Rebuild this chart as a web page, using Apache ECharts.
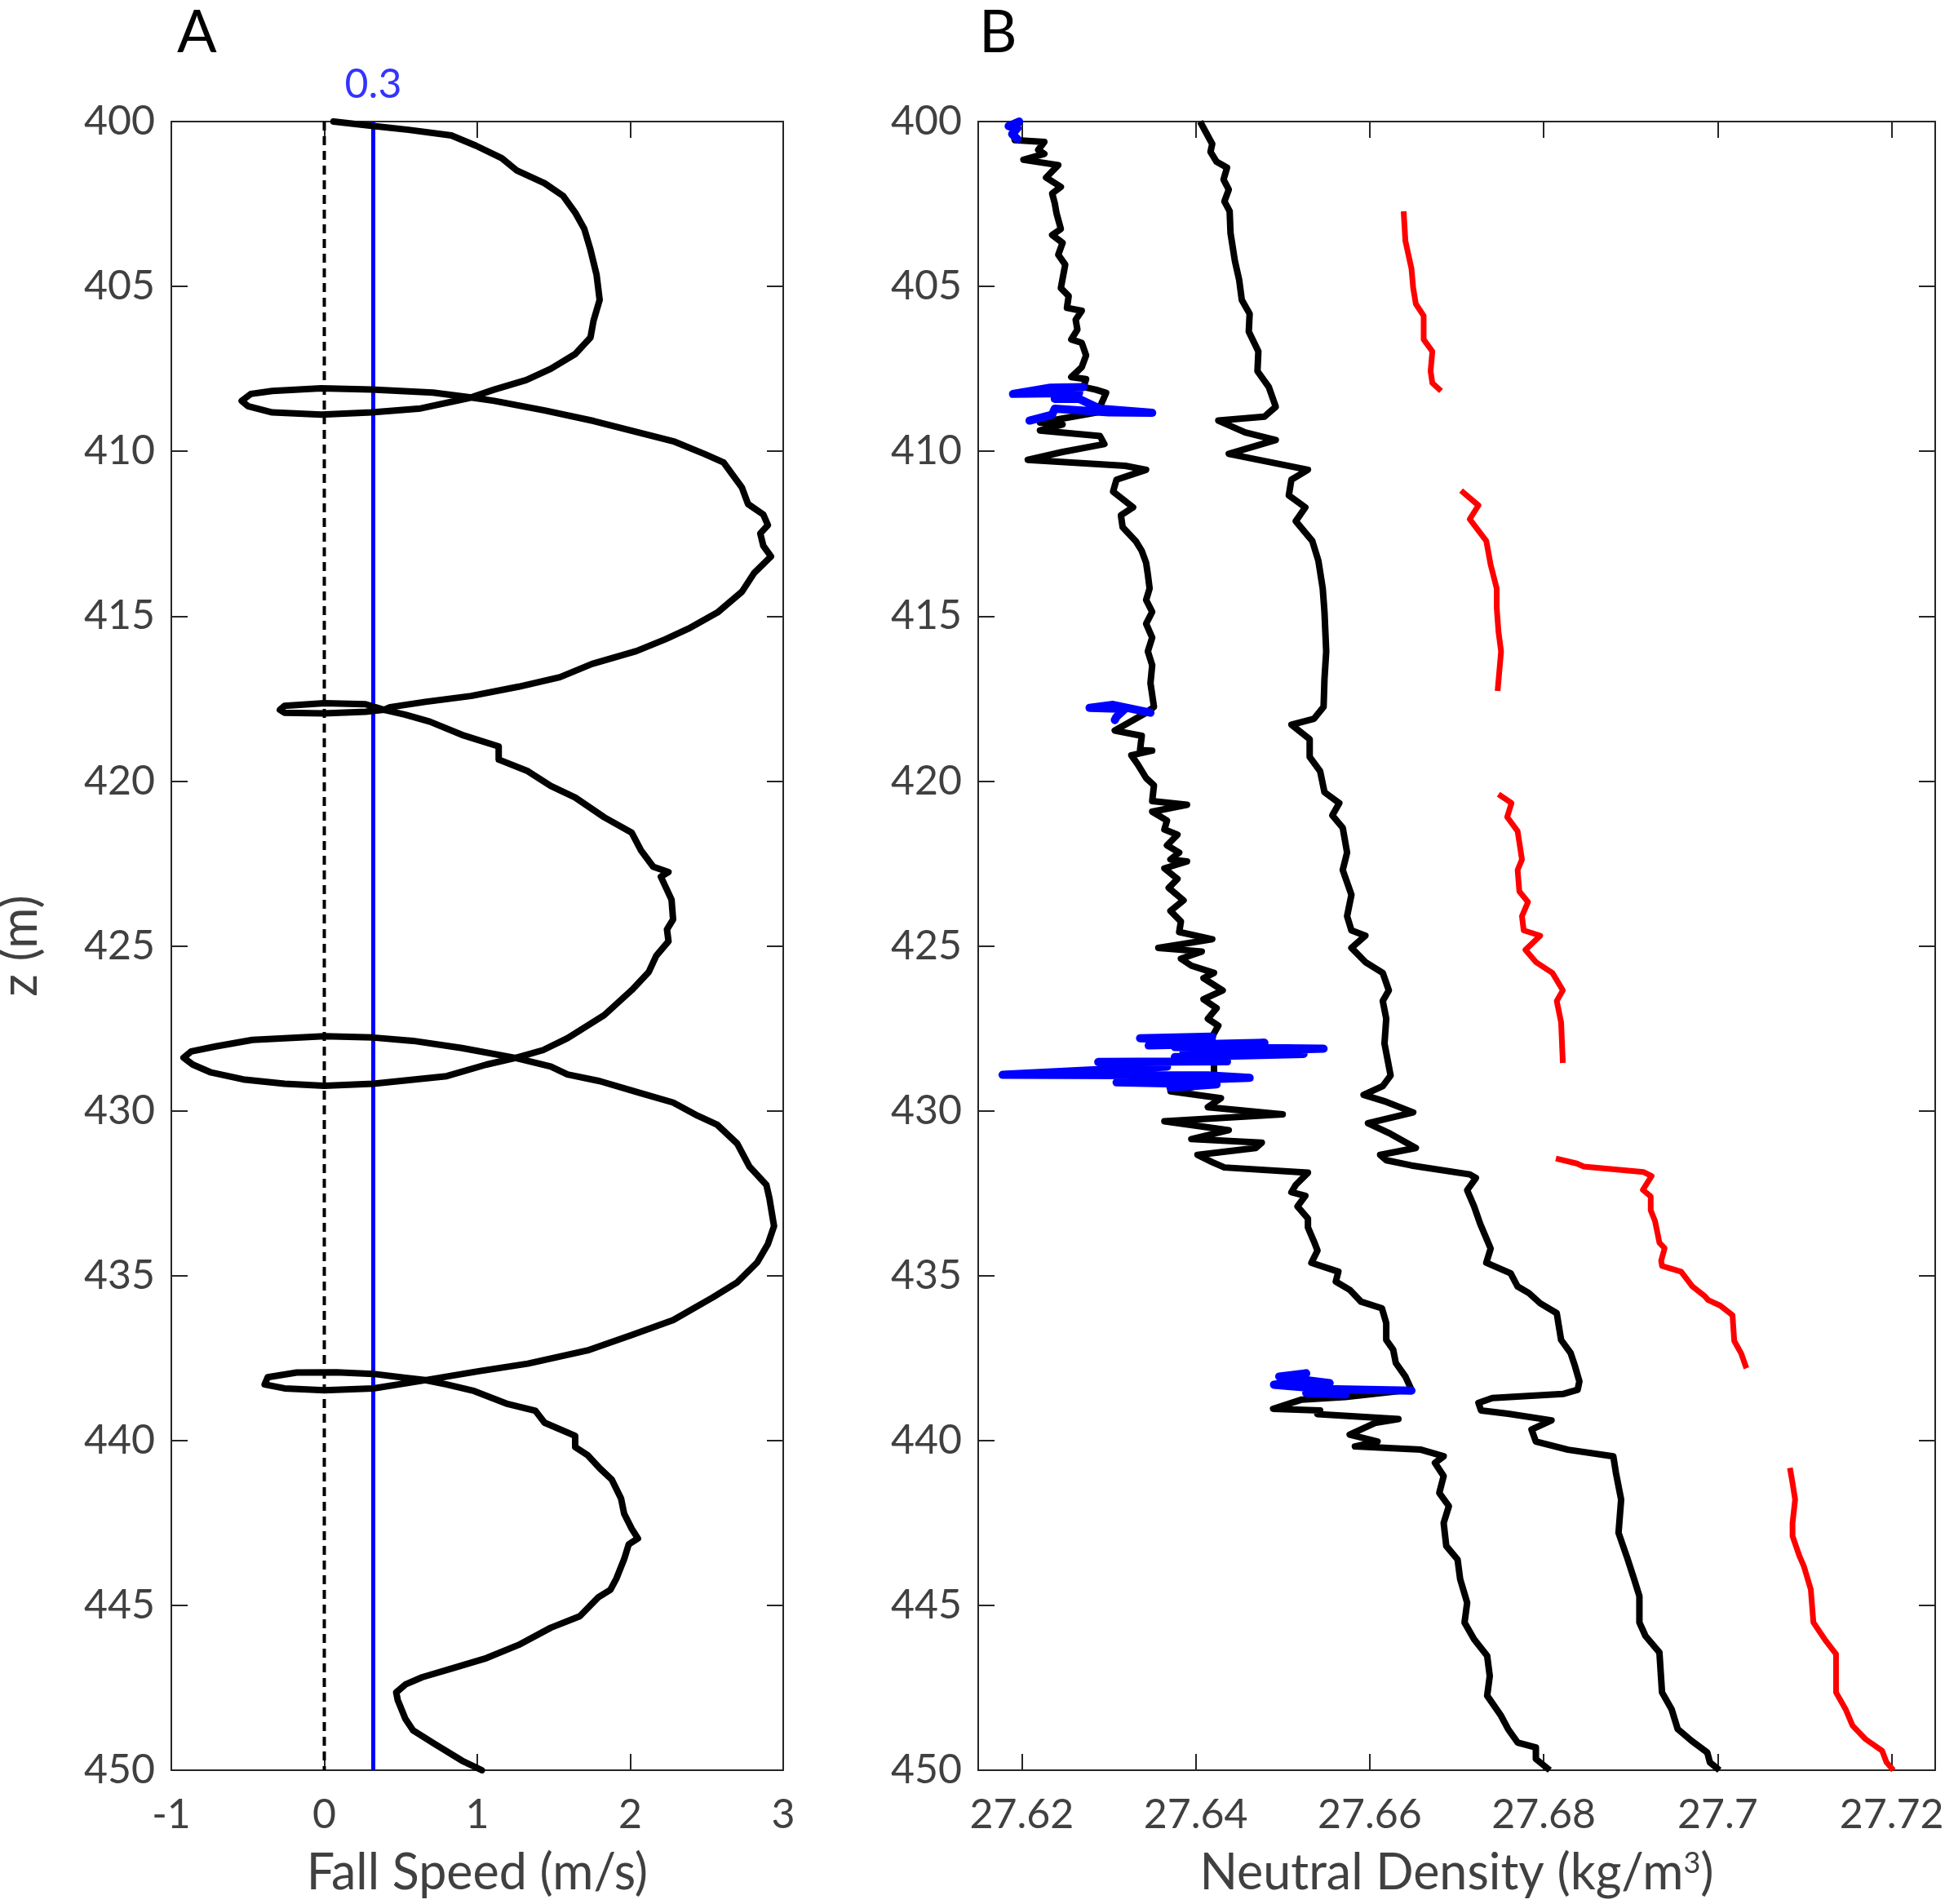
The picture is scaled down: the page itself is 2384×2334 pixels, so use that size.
<!DOCTYPE html>
<html>
<head>
<meta charset="utf-8">
<script src="https://cdn.jsdelivr.net/npm/echarts@6/dist/echarts.min.js"></script>
<style>
  html, body { margin: 0; padding: 0; background: #fff; }
  #chart { width: 2384px; height: 2334px; }
</style>
</head>
<body>
<div id="chart"></div>
<script>
// panel A: fall speed (m/s) along the profile, in time order
var speedA = [0.06, 0.31, 0.55, 0.83, 0.99, 1.16, 1.26, 1.44, 1.56, 1.64, 1.7, 1.74, 1.78, 1.8, 1.76, 1.74, 1.64, 1.48, 1.32, 1.11,
  0.95, 0.63, 0.31, -0.02, -0.34, -0.5, -0.54, -0.48, -0.34, -0.02, 0.31, 0.71, 0.95, 1.11, 1.44, 1.76, 2.29, 2.49, 2.61, 2.73,
  2.77, 2.87, 2.9, 2.85, 2.87, 2.92, 2.81, 2.73, 2.57, 2.38, 2.23, 2.04, 1.75, 1.54, 1.27, 0.96, 0.66, 0.43, 0.39, 0.27,
  0, -0.26, -0.29, -0.26, 0, 0.27, 0.39, 0.53, 0.69, 0.9, 1.14, 1.14, 1.33, 1.48, 1.64, 1.83, 2.01, 2.07, 2.15, 2.25,
  2.2, 2.27, 2.28, 2.24, 2.25, 2.17, 2.12, 2.01, 1.83, 1.59, 1.43, 1.25, 1.06, 0.8, 0.32, 0, -0.26, -0.53, -0.74, -0.86,
  -0.92, -0.87, -0.71, -0.47, 0, 0.32, 0.58, 0.9, 1.25, 1.48, 1.59, 1.8, 2.07, 2.28, 2.44, 2.57, 2.7, 2.78, 2.89, 2.91,
  2.94, 2.9, 2.83, 2.7, 2.54, 2.28, 2.01, 1.72, 1.33, 1.01, 0.66, 0.32, 0, -0.26, -0.39, -0.37, -0.18, 0.08, 0.32, 0.53,
  0.66, 0.8, 0.98, 1.19, 1.38, 1.44, 1.64, 1.64, 1.72, 1.8, 1.88, 1.94, 1.96, 2.01, 2.05, 1.99, 1.96, 1.91, 1.87, 1.79,
  1.67, 1.48, 1.27, 1.06, 0.85, 0.64, 0.53, 0.47, 0.48, 0.53, 0.58, 0.72, 0.9, 1.03];
var depthA = [400, 400.13, 400.25, 400.42, 400.73, 401.11, 401.49, 401.87, 402.25, 402.76, 403.26, 403.89, 404.65, 405.41, 406.04, 406.55, 407.05, 407.5, 407.84, 408.13,
  408.38, 408.7, 408.82, 408.89, 408.82, 408.63, 408.47, 408.26, 408.17, 408.09, 408.13, 408.22, 408.36, 408.47, 408.76, 409.08, 409.71, 410.09, 410.34, 411.1,
  411.6, 411.92, 412.24, 412.49, 412.87, 413.19, 413.69, 414.26, 414.89, 415.38, 415.7, 416.06, 416.45, 416.85, 417.14, 417.42, 417.6, 417.76, 417.84, 417.9,
  417.95, 417.93, 417.84, 417.72, 417.64, 417.67, 417.84, 417.99, 418.2, 418.6, 418.95, 419.35, 419.7, 420.15, 420.5, 421.1, 421.57, 422.1, 422.6, 422.76,
  422.9, 423.6, 424.2, 424.5, 424.86, 425.3, 425.8, 426.34, 427.1, 427.8, 428.16, 428.4, 428.6, 428.95, 429.18, 429.24, 429.18, 429.05, 428.84, 428.6,
  428.39, 428.2, 428.05, 427.85, 427.74, 427.78, 427.88, 428.1, 428.4, 428.66, 428.9, 429.1, 429.47, 429.75, 430.15, 430.43, 431.0, 431.7, 432.25, 432.66,
  433.5, 434.04, 434.6, 435.2, 435.66, 436.35, 436.8, 437.27, 437.67, 437.9, 438.17, 438.42, 438.48, 438.42, 438.3, 438.08, 437.94, 437.93, 437.98, 438.1,
  438.17, 438.3, 438.5, 438.88, 439.1, 439.46, 439.86, 440.2, 440.44, 440.84, 441.19, 441.76, 442.22, 442.68, 442.97, 443.15, 443.6, 444.18, 444.53, 444.76,
  445.33, 445.68, 446.2, 446.6, 446.89, 447.18, 447.4, 447.64, 447.87, 448.44, 448.79, 449.2, 449.71, 450];
var zeroSpeed = 0;
var refSpeed = 0.32;

// panel B: neutral density profiles [density, depth]
var densLeft = [[27.6198,400],[27.6190,400.3],[27.6192,400.56],[27.6226,400.62],[27.6219,400.86],[27.6226,400.98],[27.6202,401.16],[27.6242,401.32],[27.6228,401.7],[27.6245,401.98],
  [27.6235,402.18],[27.6238,402.48],[27.6240,402.78],[27.6245,403.26],[27.6235,403.44],[27.6247,403.68],[27.6242,404.04],[27.6250,404.34],[27.6245,405.05],[27.6254,405.29],
  [27.6252,405.65],[27.6269,405.74],[27.6262,406.01],[27.6264,406.31],[27.6257,406.61],[27.6269,406.71],[27.6274,407.09],[27.6269,407.45],[27.6257,407.75],[27.6274,407.81],
  [27.6271,408.05],[27.6285,408.13],[27.6297,408.23],[27.6290,408.65],[27.6297,408.77],[27.6221,409.13],[27.6247,409.19],[27.6221,409.37],[27.6290,409.54],[27.6295,409.78],
  [27.6247,410.02],[27.6207,410.26],[27.6319,410.44],[27.6343,410.56],[27.6309,410.86],[27.6305,411.22],[27.6328,411.7],[27.6314,411.94],[27.6316,412.3],[27.6331,412.72],
  [27.6338,413.02],[27.6343,413.38],[27.6345,413.74],[27.6347,414.16],[27.6343,414.51],[27.6350,414.87],[27.6343,415.23],[27.6350,415.65],[27.6345,416.07],[27.6350,416.49],
  [27.6348,417.03],[27.6352,417.75],[27.6343,417.93],[27.6307,418.47],[27.6338,418.63],[27.6336,419.06],[27.6350,419.08],[27.6326,419.22],[27.6333,419.48],[27.6343,419.91],
  [27.6352,420.13],[27.6350,420.61],[27.6390,420.72],[27.6350,420.93],[27.6367,421.2],[27.6364,421.47],[27.6379,421.63],[27.6367,421.95],[27.6381,422.17],[27.6371,422.38],
  [27.6390,422.44],[27.6364,422.65],[27.6379,422.97],[27.6369,423.24],[27.6386,423.62],[27.6371,423.94],[27.6383,424.26],[27.6381,424.58],[27.6419,424.8],[27.6357,425.06],
  [27.6407,425.17],[27.6383,425.39],[27.6395,425.6],[27.6421,425.82],[27.6409,425.98],[27.6431,426.35],[27.6409,426.62],[27.6424,426.89],[27.6414,427.21],[27.6426,427.42],
  [27.6419,427.75],[27.6421,428.39],[27.6421,428.82],[27.6424,429.14],[27.6371,429.41],[27.6429,429.62],[27.6414,429.89],[27.6500,430.11],[27.6364,430.32],[27.6438,430.59],
  [27.6395,430.86],[27.6476,430.97],[27.6469,431.13],[27.6402,431.34],[27.6419,431.56],[27.6433,431.72],[27.6529,431.88],[27.6515,432.25],[27.6510,432.47],[27.6526,432.58],
  [27.6517,432.9],[27.6529,433.27],[27.6529,433.54],[27.6536,433.97],[27.6540,434.24],[27.6533,434.61],[27.6564,434.88],[27.6561,435.18],[27.6577,435.43],[27.6590,435.79],
  [27.6614,435.99],[27.6619,436.44],[27.6619,436.95],[27.6627,437.25],[27.6630,437.65],[27.6641,438.06],[27.6648,438.46],[27.6572,438.68],[27.6522,438.76],[27.6489,439.04],
  [27.6543,439.09],[27.6540,439.2],[27.6633,439.35],[27.6606,439.47],[27.6577,439.82],[27.6609,440.03],[27.6583,440.18],[27.6659,440.28],[27.6685,440.48],[27.6675,440.68],
  [27.6685,441.08],[27.6680,441.59],[27.6691,441.99],[27.6685,442.5],[27.6688,443.2],[27.6701,443.61],[27.6704,444.21],[27.6712,444.92],[27.6709,445.52],[27.6720,446.03],
  [27.6735,446.53],[27.6738,447.14],[27.6735,447.74],[27.6751,448.35],[27.6759,448.75],[27.6770,449.16],[27.6791,449.31],[27.6791,449.66],[27.6807,450]];
var densMid = [[27.6405,400],[27.6419,400.68],[27.6417,400.92],[27.6424,401.22],[27.6436,401.4],[27.6432,401.76],[27.6438,402.06],[27.6433,402.42],[27.6439,402.72],[27.6440,403.38],
  [27.6445,404.22],[27.6450,404.81],[27.6453,405.41],[27.6462,405.83],[27.6461,406.37],[27.6472,406.97],[27.6471,407.57],[27.6484,408.05],[27.6492,408.65],[27.6479,408.95],
  [27.6426,409.07],[27.6457,409.43],[27.6492,409.66],[27.6438,410.08],[27.6529,410.56],[27.6510,410.86],[27.6507,411.34],[27.6526,411.7],[27.6515,412.12],[27.6534,412.72],
  [27.6541,413.32],[27.6546,414.16],[27.6548,414.87],[27.6550,416.07],[27.6548,416.91],[27.6547,417.75],[27.6536,418.11],[27.6510,418.29],[27.6531,418.73],[27.6531,419.27],
  [27.6543,419.7],[27.6548,420.34],[27.6565,420.67],[27.6557,421.04],[27.6569,421.42],[27.6574,422.17],[27.6569,422.7],[27.6579,423.45],[27.6574,424.1],[27.6579,424.53],
  [27.6595,424.69],[27.6579,425.06],[27.6595,425.49],[27.6615,425.82],[27.6622,426.35],[27.6615,426.67],[27.6619,427.21],[27.6617,427.96],[27.6624,428.93],[27.6615,429.25],
  [27.6593,429.52],[27.6619,429.73],[27.6650,430.05],[27.6598,430.38],[27.6624,430.7],[27.6653,431.13],[27.6612,431.34],[27.6619,431.5],[27.6648,431.66],[27.6715,431.93],
  [27.6722,432.04],[27.6712,432.41],[27.6720,432.9],[27.6727,433.43],[27.6739,434.18],[27.6734,434.61],[27.6762,434.93],[27.6770,435.33],[27.6783,435.53],[27.6796,435.84],
  [27.6815,436.14],[27.6820,436.95],[27.6831,437.35],[27.6836,437.75],[27.6841,438.21],[27.6839,438.46],[27.6822,438.59],[27.6741,438.71],[27.6725,438.86],[27.6728,439.09],
  [27.6759,439.19],[27.6809,439.39],[27.6786,439.67],[27.6791,440.03],[27.6828,440.28],[27.6880,440.48],[27.6883,440.98],[27.6889,441.79],[27.6886,442.8],[27.6896,443.56],
  [27.6904,444.21],[27.6910,444.72],[27.6910,445.52],[27.6917,445.93],[27.6933,446.43],[27.6936,447.64],[27.6947,448.15],[27.6954,448.75],[27.6970,449.11],[27.6988,449.46],
  [27.6991,449.76],[27.7002,450]];
var redSegments = [
  [[27.6639,402.72],[27.6641,403.62],[27.6648,404.46],[27.6650,405.05],[27.6653,405.53],[27.6662,405.89],[27.6662,406.61],[27.6672,406.97],[27.6670,407.57],[27.6672,407.93],[27.6682,408.17]],
  [[27.6705,411.19],[27.6725,411.64],[27.6715,412.06],[27.6734,412.72],[27.6739,413.44],[27.6746,414.16],[27.6746,414.75],[27.6748,415.47],[27.6751,416.07],[27.6747,417.27]],
  [[27.6748,420.4],[27.6763,420.67],[27.6758,421.09],[27.6770,421.52],[27.6775,422.38],[27.6770,422.7],[27.6772,423.35],[27.6782,423.67],[27.6775,424.1],[27.6777,424.53],
   [27.6796,424.69],[27.6779,425.12],[27.6791,425.49],[27.6810,425.82],[27.6822,426.35],[27.6815,426.67],[27.6820,427.32],[27.6822,428.55]],
  [[27.6814,431.45],[27.6838,431.6],[27.6846,431.69],[27.6915,431.86],[27.6924,431.98],[27.6914,432.4],[27.6923,432.6],[27.6923,433.02],[27.6928,433.35],[27.6933,434.0],
   [27.6939,434.17],[27.6935,434.55],[27.6936,434.71],[27.6958,434.88],[27.6971,435.33],[27.6985,435.62],[27.6989,435.74],[27.7003,435.91],[27.7017,436.2],[27.7019,436.98],
   [27.7027,437.36],[27.7033,437.81]],
  [[27.7083,440.83],[27.7086,441.29],[27.7089,441.79],[27.7086,442.5],[27.7086,442.9],[27.7094,443.51],[27.7099,443.81],[27.7107,444.52],[27.7110,445.52],[27.7123,446.03],
   [27.7136,446.48],[27.7136,447.64],[27.7147,448.15],[27.7155,448.65],[27.7170,449.06],[27.7189,449.41],[27.7194,449.76],[27.7202,450]]
];
var blueSegments = [
  [[27.6197,400],[27.6185,400.14],[27.6195,400.2],[27.6189,400.38],[27.6195,400.53]],
  [[27.6271,408.05],[27.6233,408.07],[27.6190,408.26],[27.6266,408.23],[27.6238,408.41],[27.6266,408.41],[27.6290,408.71],[27.6350,408.83],[27.6300,408.82],[27.6238,408.71],
   [27.6235,408.89],[27.6209,409.07]],
  [[27.6348,417.93],[27.6305,417.69],[27.6278,417.78],[27.6319,417.81],[27.6309,418.05],[27.6307,418.15]],
  [[27.6419,427.75],[27.6336,427.8],[27.6393,427.85],[27.6346,428.02],[27.6479,427.94],[27.6376,428.07],[27.6547,428.12],[27.6386,428.23],[27.6524,428.28],[27.6376,428.37],
   [27.6436,428.5],[27.6288,428.52],[27.6367,428.66],[27.6178,428.91],[27.6414,428.93],[27.6462,429.0],[27.6309,429.14],[27.6424,429.2],[27.6371,429.3]],
  [[27.6648,438.49],[27.6548,438.44],[27.6490,438.31],[27.6525,438.16],[27.6496,438.06],[27.6527,437.96],[27.6505,438.1],[27.6554,438.26],[27.6527,438.56],[27.6572,438.61]]
];

var speedTicks = [-1, 0, 1, 2, 3];
var densTicks = [27.62, 27.64, 27.66, 27.68, 27.7, 27.72];
var depthRange = [400, 450];

var font = 'Lato, "Open Sans", sans-serif';
var axisCol = '#262626';
var textCol = '#404040';

var chart = echarts.init(document.getElementById('chart'));

function xAx(grid, pos, min, max, extra) {
  var a = {
    type: 'value', gridIndex: grid, position: pos, min: min, max: max,
    axisLine: { show: true, onZero: false, lineStyle: { color: axisCol, width: 2 } },
    axisTick: { show: true, inside: true, length: 20, lineStyle: { color: axisCol, width: 2 } },
    axisLabel: { show: pos === 'bottom', margin: 30, fontSize: 50, color: textCol, fontFamily: font },
    splitLine: { show: false }
  };
  return Object.assign(a, extra || {});
}
function yAx(grid, pos, extra) {
  var a = {
    type: 'value', gridIndex: grid, position: pos, inverse: true,
    min: depthRange[0], max: depthRange[1], interval: 5,
    axisLine: { show: true, onZero: false, lineStyle: { color: axisCol, width: 2 } },
    axisTick: { show: true, inside: true, length: 20, lineStyle: { color: axisCol, width: 2 } },
    axisLabel: { show: pos === 'left', margin: 20, fontSize: 50, color: textCol, fontFamily: font },
    splitLine: { show: false }
  };
  return Object.assign(a, extra || {});
}

var nameStyle = { fontSize: 61, color: textCol, fontFamily: font };

var xAxes = [
  xAx(0, 'bottom', speedTicks[0], speedTicks[speedTicks.length - 1], {
    interval: 1, name: 'Fall Speed (m/s)', nameLocation: 'middle', nameGap: 96, nameMoveOverlap: false, nameTextStyle: nameStyle
  }),
  xAx(0, 'top', speedTicks[0], speedTicks[speedTicks.length - 1], { interval: 1 }),
  xAx(1, 'bottom', 27.615, 27.725, {
    name: 'Neutral Density (kg/m{s|3})', nameLocation: 'middle', nameGap: 96, nameMoveOverlap: false,
    nameTextStyle: Object.assign({}, nameStyle, {
      rich: { s: { fontSize: 36, color: textCol, fontFamily: font, verticalAlign: 'top', lineHeight: 40 } }
    })
  }),
  xAx(1, 'top', 27.615, 27.725)
];
xAxes[2].axisTick.customValues = densTicks;
xAxes[2].axisLabel.customValues = densTicks;
xAxes[3].axisTick.customValues = densTicks;
xAxes[3].axisLabel.customValues = densTicks;

var yAxes = [
  yAx(0, 'left', { name: 'z (m)', nameLocation: 'middle', nameGap: 154, nameMoveOverlap: false, nameTextStyle: nameStyle }),
  yAx(0, 'right'),
  yAx(1, 'left'),
  yAx(1, 'right')
];

var series = [];
series.push({
  type: 'line', xAxisIndex: 0, yAxisIndex: 0, symbol: 'none', animation: false,
  data: [[zeroSpeed, depthRange[0]], [zeroSpeed, depthRange[1]]],
  lineStyle: { color: '#000', width: 4, type: [11, 7] }
});
series.push({
  type: 'line', xAxisIndex: 0, yAxisIndex: 0, symbol: 'none', animation: false,
  data: [[refSpeed, depthRange[0]], [refSpeed, depthRange[1]]],
  lineStyle: { color: '#0000ff', width: 5 }
});
series.push({
  type: 'line', xAxisIndex: 0, yAxisIndex: 0, symbol: 'none', animation: false,
  data: speedA.map(function (v, i) { return [v, depthA[i]]; }),
  lineStyle: { color: '#000', width: 8, join: 'round', cap: 'round' }
});
series.push({
  type: 'scatter', xAxisIndex: 0, yAxisIndex: 0, animation: false, symbolSize: 1,
  itemStyle: { color: 'rgba(0,0,0,0)' },
  data: [[refSpeed, depthRange[0]]],
  label: { show: true, position: 'top', distance: 20, formatter: refSpeed.toFixed(1),
    fontSize: 50, color: '#0000ff', fontFamily: font }
});

series.push({
  type: 'line', xAxisIndex: 2, yAxisIndex: 2, symbol: 'none', animation: false,
  data: densLeft, lineStyle: { color: '#000', width: 8, join: 'round' }
});
series.push({
  type: 'line', xAxisIndex: 2, yAxisIndex: 2, symbol: 'none', animation: false,
  data: densMid, lineStyle: { color: '#000', width: 8, join: 'round' }
});
redSegments.forEach(function (seg) {
  series.push({
    type: 'line', xAxisIndex: 2, yAxisIndex: 2, symbol: 'none', animation: false,
    data: seg, lineStyle: { color: '#ff0000', width: 7, join: 'round' }
  });
});
blueSegments.forEach(function (seg) {
  series.push({
    type: 'line', xAxisIndex: 2, yAxisIndex: 2, symbol: 'none', animation: false,
    data: seg, lineStyle: { color: '#0000ff', width: 10, join: 'round', cap: 'round' }
  });
});

chart.setOption({
  backgroundColor: '#fff',
  animation: false,
  title: [
    { text: 'A', left: 212, top: 0, textStyle: { fontSize: 72, fontWeight: 'normal', color: '#000', fontFamily: font } },
    { text: 'B', left: 1195, top: 0, textStyle: { fontSize: 72, fontWeight: 'normal', color: '#000', fontFamily: font } }
  ],
  grid: [
    { left: 210, top: 149, width: 750, height: 2021, outerBoundsMode: 'none' },
    { left: 1199, top: 149, width: 1173, height: 2021, outerBoundsMode: 'none' }
  ],
  xAxis: xAxes,
  yAxis: yAxes,
  series: series
});
</script>
</body>
</html>
